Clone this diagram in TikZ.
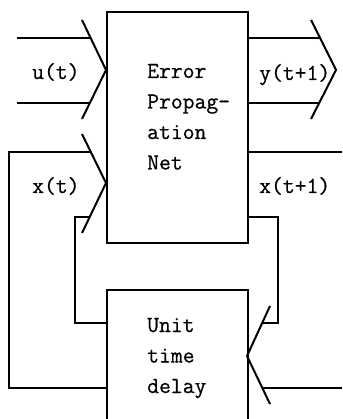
\documentclass[tikz,border=0pt]{standalone}
\usepackage{fontspec}
\newfontfamily\diagfont[FakeBold=0.6]{Latin Modern Mono}
\begin{document}
\begin{tikzpicture}[x=1pt,y=-1pt,
  wire/.style={line width=2pt},
  blockbox/.style={draw,line width=2pt,rectangle,inner sep=0pt,anchor=north west},
  lbl/.style={inner sep=0pt,anchor=base west,font=\fontsize{23}{30.5}\selectfont\diagfont,align=left}]
\useasboundingbox (0,0) rectangle (342,419);
\clip (0,0) rectangle (342,419);
% boxes
\node[blockbox,minimum width=141pt,minimum height=231pt] (epn) at (106,11) {};
\node[blockbox,minimum width=141pt,minimum height=150pt] (utd) at (106,289) {};
% texts (anchored at the baseline of the last line)
\node[lbl] (epntext) at (147,169.5) {Error\\Propag-\\ation\\Net};
\node[lbl] (utdtext) at (147,393) {Unit\\time\\delay};
\node[lbl] (ulbl) at (32,79) {u(t)};
\node[lbl] (xlbl) at (32,193) {x(t)};
\node[lbl] (ylbl) at (259,80) {y(t+1)};
\node[lbl] (x1lbl) at (259,193) {x(t+1)};
% chevron points
\coordinate (ua) at (82,20); \coordinate (uv) at (106,70); \coordinate (ub) at (82,119);
\coordinate (xa) at (82,134); \coordinate (xv) at (106,183); \coordinate (xb) at (82,233);
\coordinate (ya) at (311,20); \coordinate (yv) at (336,70); \coordinate (yb) at (311,119);
\coordinate (da) at (270,306); \coordinate (dv) at (247,356); \coordinate (db) at (270,404);
\draw[wire] (ua) -- (uv) -- (ub);
\draw[wire] (xa) -- (xv) -- (xb);
\draw[wire] (ya) -- (yv) -- (yb);
\draw[wire] (da) -- (dv) -- (db);
% free ends
\coordinate (u1) at (17,38); \coordinate (u2) at (17,103);
\coordinate (rx) at (342,152); \coordinate (rd) at (342,388);
% u(t) lines
\draw[wire] (u1) -- (90.6,38);
\draw[wire] (u2) -- (89.8,103);
% y(t+1) lines
\draw[wire] (epn.east |- 0,38) -- (320,38);
\draw[wire] (epn.east |- 0,103) -- (319,103);
% x(t+1) out
\draw[wire] (epn.east |- 0,152) -- (rx);
% feedback right
\draw[wire] (epn.east |- 0,217) -- (278,217) -- (278,323) -- (262,323);
\draw[wire] (rd) -- (262.3,388);
% left feedback
\draw[wire] (90.8,152) -- (9,152) -- (9,388) -- (utd.west |- 0,388);
\draw[wire] (89.7,217) -- (75,217) -- (75,323) -- (utd.west |- 0,323);
\end{tikzpicture}
\end{document}
